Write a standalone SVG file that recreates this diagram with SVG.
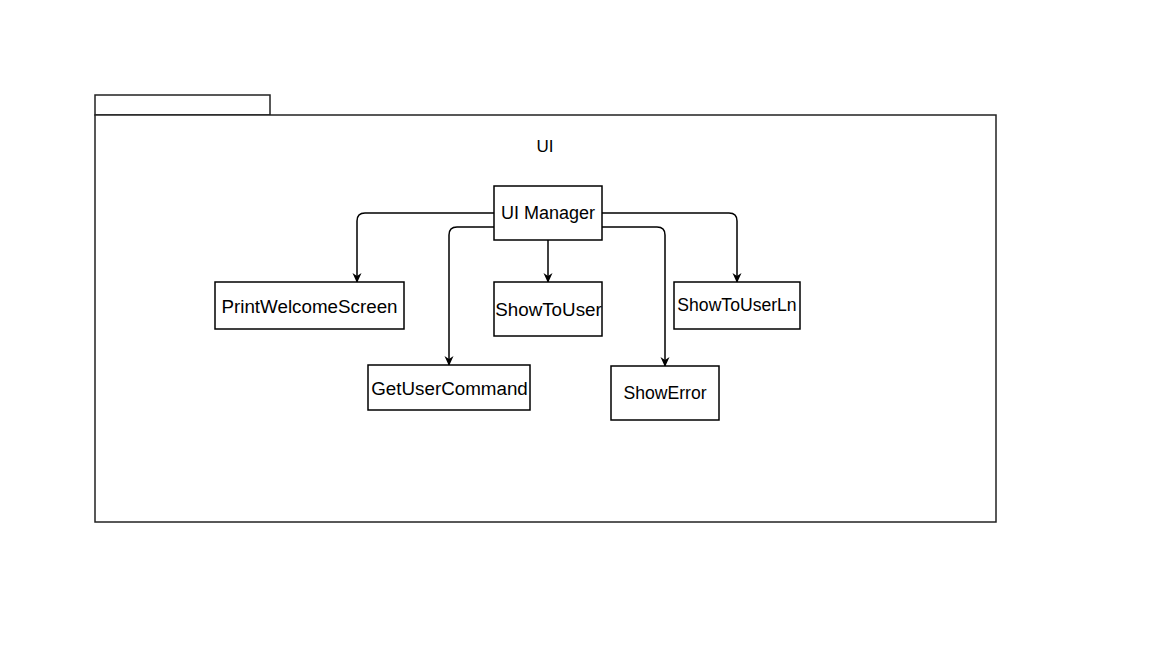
<svg xmlns="http://www.w3.org/2000/svg" width="1152" height="648" viewBox="0 0 1152 648">
<style>
.box{fill:#fff;stroke:#000;stroke-width:1.5}
.pkg{fill:#fff;stroke:#222;stroke-width:1.5}
.lbl{font-family:"Liberation Sans",Arial,sans-serif;font-size:18.8px;fill:#000;text-anchor:middle;dominant-baseline:central}
.sm{font-size:17.6px}
.md{font-size:18px}
.ttl{font-family:"Liberation Sans",Arial,sans-serif;font-size:17px;fill:#000;text-anchor:middle;dominant-baseline:central}
.edge{fill:none;stroke:#000;stroke-width:1.5}
</style>
<defs>
<marker id="arr" viewBox="0 0 10 10" refX="9" refY="5" markerWidth="10" markerHeight="10" markerUnits="userSpaceOnUse" orient="auto">
<path d="M0,0.5 L10,5 L0,9.5 L3,5 Z" fill="#000"/>
</marker>
</defs>
<rect width="1152" height="648" fill="#fff"/>
<g id="package">
<rect class="pkg" x="95" y="95" width="175" height="20"/>
<rect class="pkg" x="95" y="115" width="901" height="407"/>
<text class="ttl" x="545" y="146">UI</text>
</g>
<g id="connectors">
<path class="edge" marker-end="url(#arr)" d="M494,213 H365 Q357,213 357,221 V282"/>
<path class="edge" marker-end="url(#arr)" d="M494,227 H457 Q449,227 449,235 V365"/>
<path class="edge" marker-end="url(#arr)" d="M548,240 V282"/>
<path class="edge" marker-end="url(#arr)" d="M602,227 H657 Q665,227 665,235 V366"/>
<path class="edge" marker-end="url(#arr)" d="M602,213 H729 Q737,213 737,221 V282"/>
</g>
<g id="ui-manager">
<rect class="box" x="494" y="186" width="108" height="54"/>
<text class="lbl md" x="548" y="213">UI Manager</text>
</g>
<g id="print-welcome-screen">
<rect class="box" x="215" y="282" width="189" height="47"/>
<text class="lbl" x="309.5" y="306">PrintWelcomeScreen</text>
</g>
<g id="show-to-user">
<rect class="box" x="494" y="282" width="108" height="54"/>
<text class="lbl" x="548.5" y="309">ShowToUser</text>
</g>
<g id="show-to-user-ln">
<rect class="box" x="674" y="282" width="126" height="47"/>
<text class="lbl sm" x="737" y="305">ShowToUserLn</text>
</g>
<g id="get-user-command">
<rect class="box" x="368" y="365" width="162" height="45"/>
<text class="lbl" x="449.5" y="388">GetUserCommand</text>
</g>
<g id="show-error">
<rect class="box" x="611" y="366" width="108" height="54"/>
<text class="lbl sm" x="665" y="393">ShowError</text>
</g>
</svg>
